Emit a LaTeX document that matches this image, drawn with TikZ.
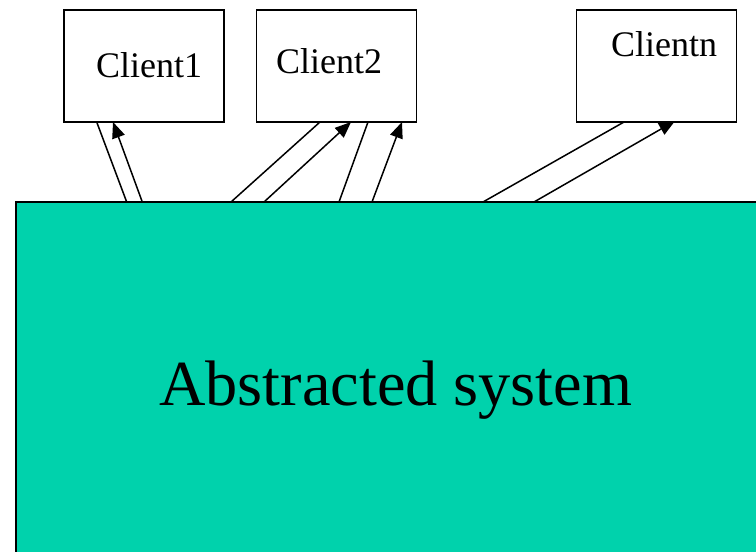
\documentclass[tikz,border=0pt]{standalone}
\usepackage{fontspec}
\setmainfont{Liberation Serif}
\usetikzlibrary{arrows.meta,calc}
\definecolor{systeal}{RGB}{0,210,172}
\tikzset{
  clientbox/.style={draw=black, fill=white, line width=1.5pt, rectangle,
    anchor=north west, inner sep=0pt, outer sep=0pt,
    minimum width=160pt, minimum height=112pt},
  sysbox/.style={draw=black, fill=systeal, line width=2pt, rectangle,
    anchor=north west, inner sep=0pt, outer sep=0pt,
    minimum width=780pt, minimum height=400pt},
  clientlabel/.style={anchor=base west, inner sep=0pt, font=\fontsize{36}{43}\selectfont},
  syslabel/.style={anchor=base west, inner sep=0pt, font=\fontsize{64.3}{76}\selectfont},
  link/.style={line width=1.5pt},
  callback/.style={line width=1.5pt, -{Triangle[length=16pt,width=13pt]}}
}
\begin{document}
\begin{tikzpicture}[x=1pt,y=-1pt]
  \useasboundingbox (0,0) rectangle (756,552);
  \clip (0,0) rectangle (756,552);

  % the abstracted system
  \node[sysbox] (sys) at (16,202) {};
  \node[syslabel] (syslbl) at (159,405) {Abstracted system};

  % the Clientn reply runs under its box, so it is drawn first
  \coordinate (cnTip) at (675,121);

  % clients
  \node[clientbox] (c1) at (64,10) {};
  \node[clientbox] (c2) at (256.7,10) {};
  \draw[callback] ($(sys.north west)+(518,0)$) -- (cnTip);
  \node[clientbox] (cn) at (576.7,10) {};

  \node[clientlabel] (c1lbl) at (96,77.5) {Client1};
  \node[clientlabel] (c2lbl) at (276,73.3) {Client2};
  \node[clientlabel] (cnlbl) at (611,56.7) {Clientn};

  % Client1
  \draw[link] ($(c1.south west)+(32.7,0)$) -- ($(sys.north west)+(110.7,0)$);
  \draw[callback] ($(sys.north west)+(126.3,0)$) -- ($(c1.south west)+(49,0)$);

  % Client2
  \draw[link] ($(c2.south west)+(63.3,0)$) -- ($(sys.north west)+(215,0)$);
  \draw[callback] ($(sys.north west)+(248,0)$) -- ($(c2.south west)+(94.3,0)$);
  \draw[link] ($(c2.south west)+(111.3,0)$) -- ($(sys.north west)+(323,0)$);
  \draw[callback] ($(sys.north west)+(356,0)$) -- ($(c2.south west)+(145.3,0)$);

  % Clientn
  \draw[link] ($(cn.south west)+(47.3,0)$) -- ($(sys.north west)+(467,0)$);
\end{tikzpicture}
\end{document}
